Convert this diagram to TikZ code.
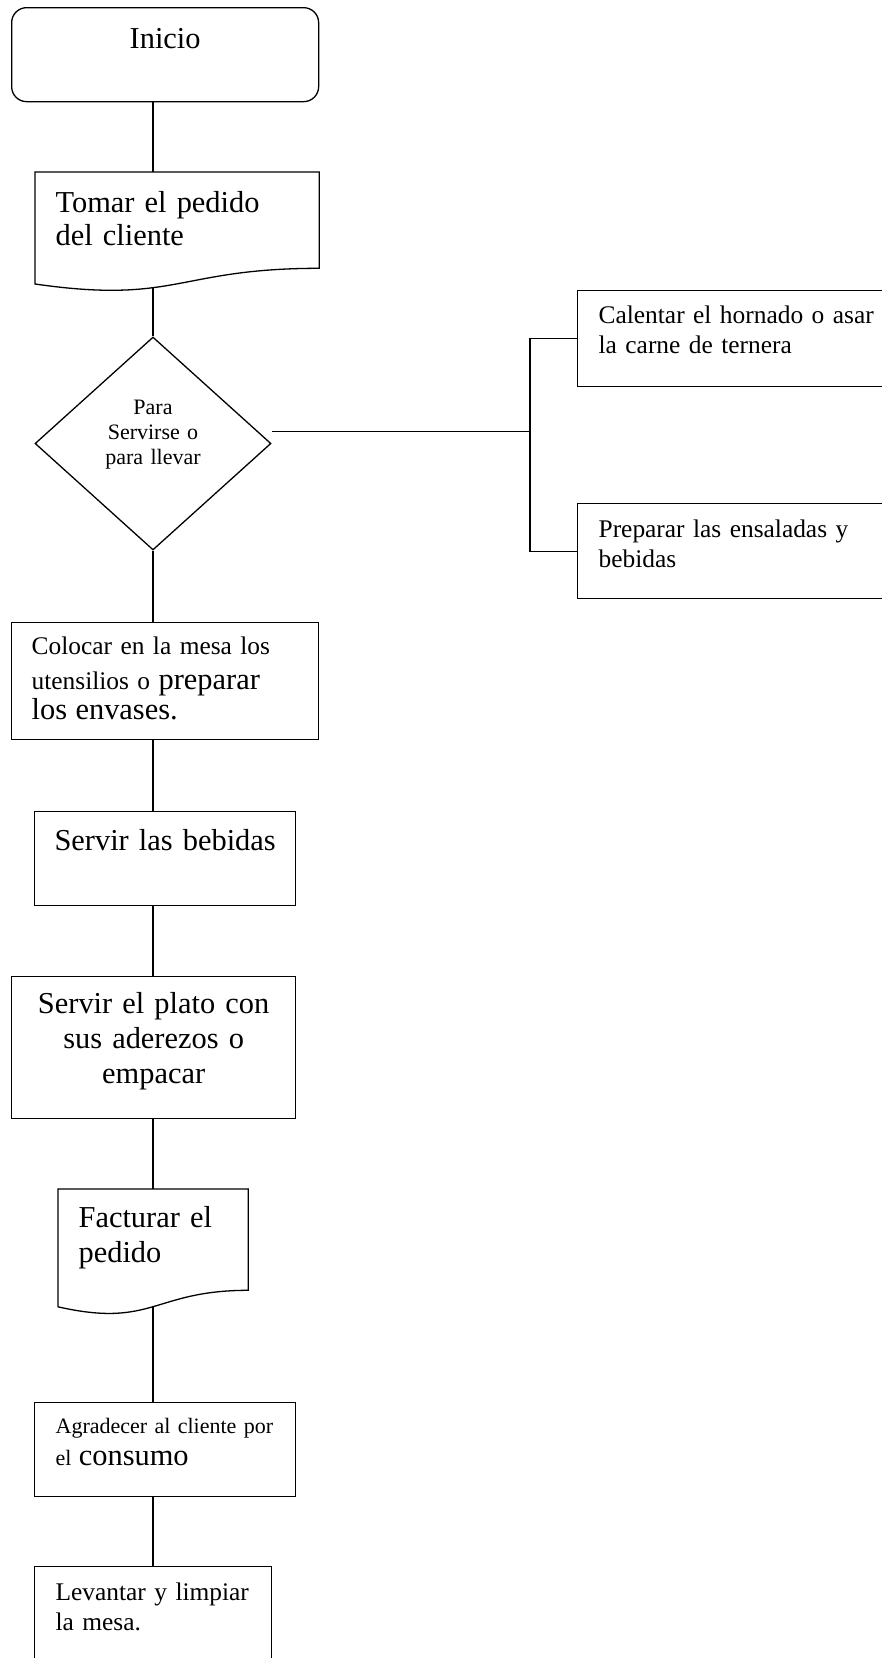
\documentclass[tikz,border=0pt]{standalone}
\usepackage{fontspec}
\setmainfont{Liberation Serif}
\usetikzlibrary{positioning,shapes.geometric}
\newcommand{\grande}{\fontsize{30.4}{35}\selectfont}
\newcommand{\media}{\fontsize{25.4}{30}\selectfont}
\newcommand{\chica}{\fontsize{22}{25}\selectfont}

\begin{document}
\begin{tikzpicture}[x=1pt, y=-1pt, line width=1.3pt,
    caja/.style = {draw, rectangle, inner sep=0pt, anchor=north west},
    txt/.style = {inner sep=0pt, text width=280pt, align=left, anchor=base west},
    ctxt/.style = {inner sep=0pt, text width=300pt, align=center, anchor=base}
    ]
    \useasboundingbox (0,0) rectangle (882,1658);
    \clip (0,0) rectangle (882,1658);

    % cajas
    \node[caja, rounded corners=15pt, minimum width=307pt, minimum height=94pt] (1) at (11,7) {};
    \node[caja, draw=none, minimum width=283pt, minimum height=118.5pt] (2) at (35,172) {};
    \node[draw, diamond, inner sep=0pt, minimum width=236pt, minimum height=213pt] (3) at (153,443.5) {};
    \node[caja, minimum width=330pt, minimum height=96pt] (4) at (577,290) {};
    \node[caja, minimum width=330pt, minimum height=95pt] (5) at (577,503) {};
    \node[caja, minimum width=307pt, minimum height=117pt] (6) at (11,622) {};
    \node[caja, minimum width=261pt, minimum height=94pt] (7) at (34,811) {};
    \node[caja, minimum width=284pt, minimum height=142pt] (8) at (11,976) {};
    \node[caja, draw=none, minimum width=189pt, minimum height=124.7pt] (9) at (58,1189) {};
    \node[caja, minimum width=261pt, minimum height=94pt] (10) at (34,1402) {};
    \node[caja, minimum width=237pt, minimum height=120pt] (11) at (34,1566) {};

    % hojas con borde ondulado
    \draw ([yshift=7.8pt]2.south west) -- (2.north west) -- (2.north east) -- ([yshift=23.5pt]2.south east)
        .. controls ([yshift=23.5pt]2.south) and ([yshift=-12.7pt]2.south) .. ([yshift=7.8pt]2.south west)
        coordinate[pos=0.61] (2b) -- cycle;
    \draw ([yshift=8.2pt]9.south west) -- (9.north west) -- (9.north east) -- ([yshift=24.7pt]9.south east)
        .. controls ([yshift=24.7pt]9.south) and ([yshift=-13.4pt]9.south) .. ([yshift=8.2pt]9.south west)
        coordinate[pos=0.5] (9b) -- cycle;

    % textos
    \node[ctxt, font=\grande] (1a) at ([shift={(0,41)}]1.north) {Inicio};
    \node[txt, font={\fontsize{30.4}{33.5}\selectfont}] (2a) at ([shift={(20,40)}]2.north west) {Tomar el pedido\\del cliente};
    \node[ctxt, font=\chica] (3a) at ([shift={(0,78)}]3.north) {Para\\Servirse o\\para llevar};
    \node[txt, font=\media] (4a) at ([shift={(21,33)}]4.north west) {Calentar el hornado o asar\\la carne de ternera};
    \node[txt, font=\media] (5a) at ([shift={(21,34)}]5.north west) {Preparar las ensaladas y\\bebidas};
    \node[txt, font=\media] (6a) at ([shift={(20,32)}]6.north west) {Colocar en la mesa los\\utensilios o \grande preparar\\los envases.};
    \node[ctxt, font=\grande] (7a) at ([shift={(0,39)}]7.north) {Servir las bebidas};
    \node[ctxt, font=\grande] (8a) at ([shift={(0,37)}]8.north) {Servir el plato con\\sus aderezos o\\empacar};
    \node[txt, font=\grande] (9a) at ([shift={(20,38)}]9.north west) {Facturar el\\pedido};
    \node[txt, font=\chica] (10a) at ([shift={(21,31)}]10.north west) {Agradecer al cliente por\\[7pt]el \fontsize{30.4}{33}\selectfont consumo};
    \node[txt, font=\media] (11a) at ([shift={(21,34)}]11.north west) {Levantar y limpiar\\la mesa.};

    % conectores
    \coordinate (bus) at (530,431.5);
    \draw (1.south -| 3.north) -- (2.north -| 3.north);
    \draw (3.north |- 2b) -- (3.north);
    \draw ([yshift=12pt]3.east) -- (bus);
    \draw (4.west) -| (bus) |- (5.west);
    \draw (3.south) -- (6.north -| 3.south);
    \draw (6.south -| 3.south) -- (7.north -| 3.south);
    \draw (7.south -| 3.south) -- (8.north -| 3.south);
    \draw (8.south -| 3.south) -- (9.north -| 3.south);
    \draw (3.south |- 9b) -- (10.north -| 3.south);
    \draw (10.south -| 3.south) -- (11.north -| 3.south);
\end{tikzpicture}
\end{document}
